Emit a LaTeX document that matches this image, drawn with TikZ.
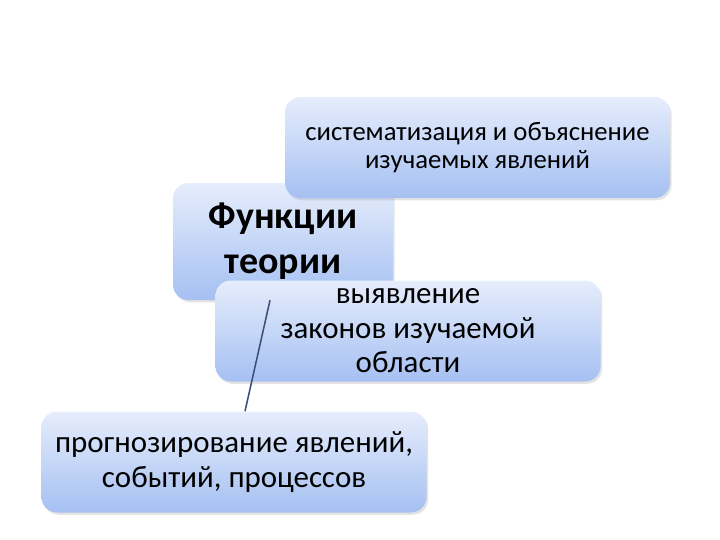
\documentclass[tikz,border=0pt]{standalone}
\usepackage{fontspec}
\setmainfont{Carlito}
\usepackage{tikz}
\usetikzlibrary{shadows}
\usetikzlibrary{calc}
\definecolor{boxtop}{HTML}{E6EDFC}
\definecolor{boxbot}{HTML}{A5C0F2}
\definecolor{linkcol}{HTML}{3E5079}
\tikzstyle{block}=[rectangle,rounded corners=11pt,top color=boxtop,bottom color=boxbot,draw=none,align=center,inner sep=0pt,
  drop shadow={shadow xshift=1.2pt,shadow yshift=-1.6pt,opacity=0.18,fill=black!60},
  font=\fontsize{19}{20}\selectfont]
\tikzstyle{bigtext}=[font=\fontsize{22}{24.5}\selectfont]
\tikzstyle{mainblock}=[block,font=\fontsize{27}{32}\selectfont\bfseries]
\tikzstyle{link} = [draw,line width=1.1pt,linkcol]

\begin{document}
\begin{tikzpicture}
    \useasboundingbox (0,0) rectangle (18,-13.5);
    % central node first, the others lie over it
    \node[mainblock,minimum width=5.5cm,minimum height=2.925cm] (fn) at (7.075,-6.0375) {Функции\\теории};

    % the three functions
    \node[block,minimum width=9.625cm,minimum height=2.525cm] (sys) at (11.9375,-3.6875) {систематизация и объяснение\\изучаемых явлений};
    \foreach \pos/ \name/ \txt in {{(10.2,-8.275)/law/{выявление\\законов изучаемой\\области}},
                                  {(5.85,-11.55)/prog/{прогнозирование явлений,\\событий, процессов}}}
        \node[block,bigtext,minimum width=9.625cm,minimum height=2.525cm] (\name) at \pos {\txt};

    % connector from the centre to the lower box
    \path[link] ([xshift=-0.325cm]fn.south) -- ([xshift=0.275cm]prog.north);
\end{tikzpicture}
\end{document}
